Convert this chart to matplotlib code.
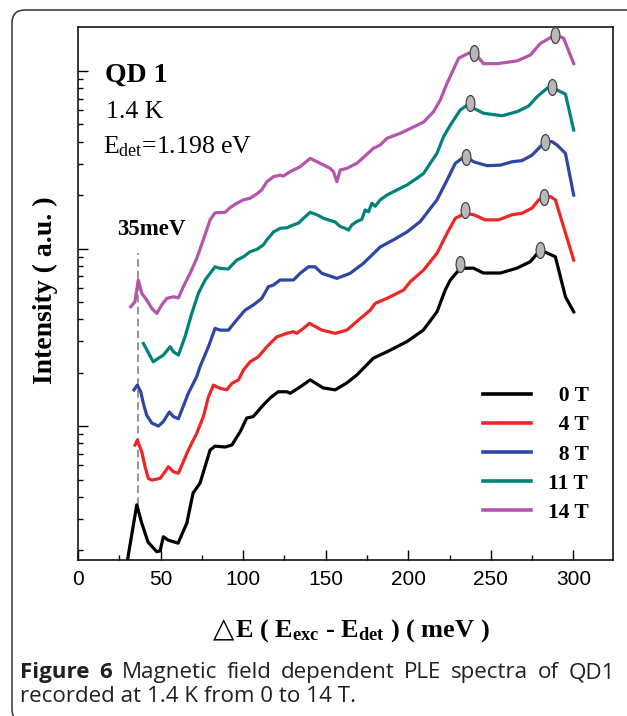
import matplotlib
matplotlib.use("Agg")
import matplotlib.pyplot as plt
import numpy as np
from matplotlib.path import Path
from matplotlib.patches import FancyBboxPatch
from matplotlib.transforms import IdentityTransform
from matplotlib.ticker import MultipleLocator, LogLocator, NullFormatter

plt.rcParams['mathtext.fontset'] = 'custom'
plt.rcParams['mathtext.rm'] = 'Liberation Serif'
plt.rcParams['mathtext.bf'] = 'Liberation Serif:bold'
plt.rcParams['mathtext.it'] = 'Liberation Serif:italic'

# PLE spectra (x in meV, intensity in a.u., log scale)
fields = ["0 T", "4 T", "8 T", "11 T", "14 T"]
colors = ["#000000", "#EE2626", "#2F46A3", "#00827A", "#B455AC"]

x_0T = [29.7, 35.6, 38.6, 42.4, 47.7, 49.7, 51.7, 54.5, 60.6, 65.9, 69.7, 73.9, 80.0, 83.0,
        89.1, 93.2, 98.2, 102.2, 106.1, 112.1, 116.4, 121.2, 126.5, 128.5, 134.5, 140.6,
        148.5, 155.8, 162.8, 168.9, 178.8, 187.1, 199.2, 209.1, 217.4, 222.4, 225.5, 231.5,
        239.4, 245.5, 255.8, 265.9, 273.9, 280.0, 289.1, 295.2, 300.2]
y_0T = [0.17, 0.36, 0.284, 0.222, 0.196, 0.198, 0.238, 0.228, 0.219, 0.284, 0.42, 0.477, 0.733, 0.771,
        0.762, 0.782, 0.929, 1.11, 1.13, 1.31, 1.44, 1.56, 1.56, 1.53, 1.66, 1.82,
        1.64, 1.60, 1.75, 1.94, 2.41, 2.62, 2.99, 3.47, 4.40, 5.84, 6.65, 7.73,
        7.76, 7.28, 7.28, 7.76, 8.43, 9.81, 8.99, 5.35, 4.40]

x_4T = [34.5, 35.9, 38.6, 40.6, 42.6, 44.7, 49.7, 52.7, 54.7, 57.8, 60.8, 66.8, 71.9, 75.9,
        79.0, 82.0, 86.1, 90.1, 93.2, 97.2, 100.2, 104.2, 109.3, 114.4, 120.4, 126.5, 130.5,
        132.5, 136.5, 140.2, 147.7, 155.8, 162.8, 169.9, 177.0, 180.0, 187.1, 197.2, 201.2,
        209.3, 217.4, 223.5, 228.5, 234.5, 239.6, 246.7, 254.7, 262.8, 268.9, 275.0, 279.0,
        281.8, 286.1, 289.1, 300.2]
y_4T = [0.782, 0.834, 0.717, 0.590, 0.507, 0.496, 0.507, 0.553, 0.590, 0.553, 0.542, 0.733, 0.910, 1.13,
        1.46, 1.70, 1.63, 1.60, 1.74, 1.82, 2.07, 2.30, 2.46, 2.80, 3.18, 3.33, 3.40,
        3.33, 3.55, 3.79, 3.47, 3.33, 3.47, 3.96, 4.50, 4.91, 5.24, 5.84, 6.50,
        7.57, 9.40, 12.2, 14.8, 15.8, 15.5, 14.5, 14.5, 15.5, 15.8, 16.9, 18.8,
        19.5, 19.6, 18.8, 8.61]

x_8T = [33.9, 35.9, 38.0, 39.6, 41.6, 44.7, 48.7, 51.7, 55.3, 57.8, 60.8, 66.8, 71.9, 73.9,
        79.0, 83.0, 86.1, 91.1, 95.2, 101.2, 106.2, 111.3, 115.3, 118.4, 122.4, 130.5, 134.5,
        139.6, 143.6, 147.7, 156.8, 164.8, 172.9, 183.0, 191.1, 199.2, 207.3, 217.4, 223.5,
        228.5, 232.5, 235.2, 239.6, 247.7, 255.8, 262.8, 268.9, 275.0, 279.0, 283.0, 287.1,
        290.1, 295.2, 300.2]
y_8T = [1.60, 1.70, 1.56, 1.34, 1.15, 1.04, 1.00, 1.06, 1.20, 1.13, 1.10, 1.53, 1.90, 2.16,
        2.80, 3.55, 3.47, 3.47, 3.87, 4.50, 4.81, 5.24, 6.10, 6.23, 6.65, 6.65, 7.25,
        7.89, 7.89, 7.25, 6.79, 7.25, 8.26, 10.2, 11.2, 12.4, 14.2, 18.8, 24.3,
        30.2, 32.2, 32.9, 30.8, 29.3, 29.5, 30.8, 31.3, 33.6, 36.7, 40.0, 40.0,
        38.3, 34.4, 20.0]

x_11T = [39.6, 45.6, 48.7, 51.7, 55.8, 57.8, 60.8, 64.8, 68.9, 72.9, 77.0, 80.0, 83.0, 86.1,
         91.1, 93.2, 96.2, 100.2, 104.2, 108.3, 112.3, 114.4, 118.4, 122.4, 126.5, 130.5, 133.5,
         136.5, 140.6, 144.7, 148.7, 152.7, 155.8, 158.8, 161.8, 163.8, 165.9, 168.9, 171.9,
         173.9, 175.9, 178.0, 180.0, 183.0, 187.1, 193.2, 199.2, 205.3, 209.3, 213.3, 217.4,
         221.4, 225.5, 231.5, 237.2, 239.6, 245.6, 256.8, 265.9, 272.9, 278.0, 284.1, 287.1,
         290.1, 295.2, 300.2]
y_11T = [2.92, 2.30, 2.41, 2.51, 2.80, 2.62, 2.51, 3.18, 4.31, 5.60, 6.65, 7.25, 7.89, 7.73,
         7.67, 8.07, 8.61, 8.99, 9.59, 9.89, 10.5, 11.2, 12.4, 13.0, 13.1, 13.6, 13.9,
         14.8, 16.0, 15.5, 14.8, 14.4, 14.1, 13.3, 13.0, 12.7, 13.6, 14.2, 14.6,
         16.5, 16.1, 18.0, 17.3, 18.8, 20.0, 21.4, 22.8, 24.9, 26.5, 30.2, 34.4,
         42.7, 49.6, 60.3, 65.8, 61.7, 57.8, 56.0, 59.0, 63.5, 71.6, 80.0, 81.6,
         78.2, 74.1, 46.5]

x_14T = [31.9, 34.5, 36.5, 38.6, 41.6, 44.7, 47.7, 50.7, 53.8, 57.8, 60.8, 63.8, 67.9, 71.9,
         75.9, 80.0, 83.0, 89.1, 92.1, 96.2, 100.2, 104.2, 108.3, 111.3, 114.4, 118.4, 122.4,
         124.4, 128.5, 134.5, 140.6, 146.7, 152.7, 154.7, 156.8, 158.8, 162.8, 168.9, 175.0,
         178.9, 183.0, 187.1, 195.2, 203.2, 209.3, 215.3, 219.4, 223.5, 230.5, 236.5, 240.0,
         245.6, 253.8, 265.9, 273.9, 280.0, 289.1, 294.1, 300.2]
y_14T = [4.70, 5.01, 6.65, 5.60, 5.13, 4.60, 4.31, 4.81, 5.24, 5.35, 5.28, 6.10, 7.25, 8.81,
         11.2, 14.5, 15.9, 16.0, 17.0, 18.0, 18.8, 19.2, 20.3, 21.4, 23.8, 25.4, 25.9,
         25.6, 27.1, 28.9, 32.2, 30.2, 28.3, 27.1, 23.8, 27.7, 28.3, 30.2, 34.0,
         36.7, 38.3, 41.8, 44.6, 48.4, 51.6, 59.0, 68.7, 85.3, 118, 126, 127,
         110, 110, 114, 123, 143, 160, 153, 110]

# peak positions marked with grey ellipses
peak_x = [[231.5, 280.0], [234.5, 282.0], [235.2, 283.0], [237.2, 287.1], [240.0, 289.1]]
peak_y = [[8.15, 9.81], [16.5, 19.6], [32.9, 40.0], [65.8, 81.6], [127, 160]]

# 35 meV guide line
dash_x = 36.5
dash_y = [0.36, 9.4]

series_x = [x_0T, x_4T, x_8T, x_11T, x_14T]
series_y = [y_0T, y_4T, y_8T, y_11T, y_14T]

W, H = 627, 716
def fx(px):
    return px / W
def fy(py):
    return 1 - py / H

fig = plt.figure(figsize=(W / 100, H / 100), dpi=100)
ax = fig.add_axes([fx(78), fy(560), fx(613) - fx(78), fy(27) - fy(560)])

circ = Path.unit_circle()
ellipse = Path(circ.vertices * np.array([0.55, 1.0]), circ.codes)

lines = []
for xs, ys, c, lab in zip(series_x, series_y, colors, fields):
    ln, = ax.plot(xs, ys, color=c, lw=2.3, label=lab, solid_joinstyle='round')
    lines.append(ln)
for px_, py_ in zip(peak_x, peak_y):
    ax.plot(px_, py_, ls='none', marker=ellipse, ms=11.5, mfc='#B8B8B8',
            mec='#444444', mew=0.9, clip_on=False, zorder=5)

ax.plot([dash_x, dash_x], dash_y, color='#777777', lw=1.1, ls=(0, (5, 2.8)), zorder=1)

ax.set_yscale('log')
ax.set_ylim(0.176, 177)
ax.set_xlim(0, 324)
ax.yaxis.set_major_locator(LogLocator(base=10))
ax.yaxis.set_minor_locator(LogLocator(base=10, subs=np.arange(2, 10)))
ax.yaxis.set_major_formatter(NullFormatter())
ax.yaxis.set_minor_formatter(NullFormatter())
ax.xaxis.set_major_locator(MultipleLocator(50))
ax.xaxis.set_minor_locator(MultipleLocator(25))
ax.tick_params(which='both', direction='in', top=False, right=False, width=1.0)
ax.tick_params(which='major', length=7, pad=7, labelsize=15)
ax.tick_params(which='minor', length=3.6)
for lbl in ax.get_xticklabels():
    lbl.set_fontfamily(['Liberation Sans', 'DejaVu Sans'])
for s in ax.spines.values():
    s.set_linewidth(1.1)

serif = ['Liberation Serif', 'DejaVu Serif']
leg = ax.legend(lines, ['\u2007' + f if len(f) < 4 else f for f in fields],
                loc='center left', bbox_to_anchor=(0.757, 0.198), frameon=False,
                borderpad=0, borderaxespad=0, handlelength=2.25, handletextpad=0.75,
                labelspacing=0.42, prop={'family': serif, 'weight': 'bold', 'size': 15.5})
for h in leg.get_lines():
    h.set_linewidth(2.6)

fig.text(fx(105), fy(82), 'QD 1', family=serif, weight='bold', fontsize=20, va='baseline')
fig.text(fx(106), fy(118), '1.4 K', family=serif, fontsize=18.5, va='baseline')
fig.text(fx(103), fy(153), r'E$_{\mathrm{det}}$=1.198 eV', family=serif, fontsize=18.5, va='baseline')
fig.text(fx(151), fy(235), '35meV', family=serif, weight='bold', fontsize=16.5,
         ha='center', va='baseline')

fig.text(fx(45), fy(290), 'Intensity ( a.u. )', family=serif, weight='bold', fontsize=20,
         rotation=90, ha='center', va='center')
# x label: open triangle, then the bold serif part
fig.text(fx(234), fy(637), '\u25b3', family=['DejaVu Sans'], fontsize=20,
         ha='right', va='baseline')
fig.text(fx(235), fy(637), r'E ( E$_{\mathbf{exc}}$ - E$_{\mathbf{det}}$ ) ( meV )',
         family=serif, weight='bold', fontsize=19, ha='left', va='baseline')

# rounded frame around the figure panel
fig.add_artist(FancyBboxPatch((12, -6), 680, H - 10 + 6, boxstyle='round,pad=0,rounding_size=13',
                              transform=IdentityTransform(), fill=False, ec='#333333', lw=1.1))

# caption: first line justified, second line natural
cap_font = ['Open Sans', 'DejaVu Sans']
cap_col = '#231F20'
fig.canvas.draw()
rend = fig.canvas.get_renderer()
line2 = fig.text(fx(20), fy(702), 'recorded at 1.4 K from 0 to 14 T.', family=cap_font,
                 fontsize=12, color=cap_col, va='baseline')
w2 = line2.get_window_extent(rend).width
cap_size = 12 * 334 / w2
line2.set_fontsize(cap_size)

words = [('Figure', 'bold'), ('6', 'bold'), ('Magnetic', 'normal'), ('field', 'normal'),
         ('dependent', 'normal'), ('PLE', 'normal'), ('spectra', 'normal'), ('of', 'normal'),
         ('QD1', 'normal')]
texts = [fig.text(0, fy(678), w, family=cap_font, fontsize=cap_size, weight=wt,
                  color=cap_col, va='baseline') for w, wt in words]
widths = [t.get_window_extent(rend).width for t in texts]
gap = (615 - 20 - sum(widths)) / (len(words) - 1)
xpos = 20
for t, wd in zip(texts, widths):
    t.set_x(fx(xpos))
    xpos += wd + gap

fig.savefig('out.png', dpi=100)
